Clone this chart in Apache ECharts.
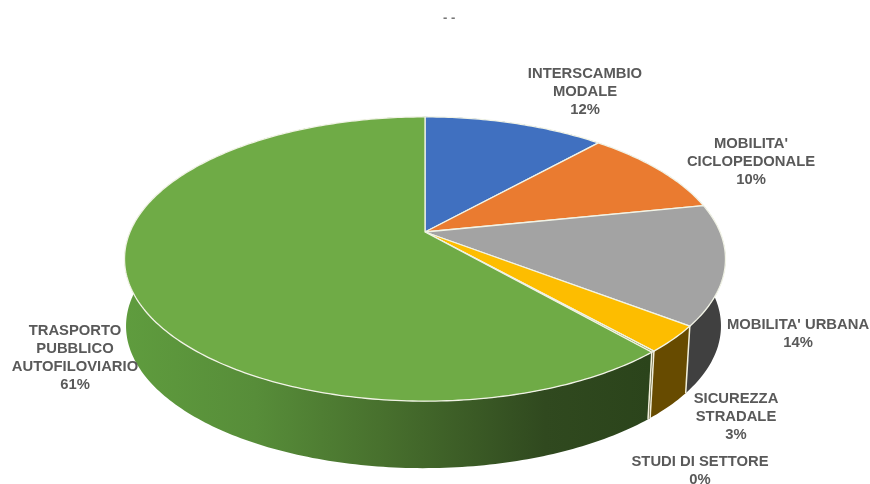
<!DOCTYPE html>
<html>
<head>
<meta charset="utf-8">
<style>html,body{margin:0;padding:0;background:#fff}#c{width:870px;height:484px}</style>
<script src="https://cdn.jsdelivr.net/npm/echarts@6/dist/echarts.min.js"></script>
</head>
<body>
<div id="c"></div>
<script>
// ---- data ----
const categories = ["INTERSCAMBIO\nMODALE", "MOBILITA'\nCICLOPEDONALE", "MOBILITA' URBANA", "SICUREZZA\nSTRADALE", "STUDI DI SETTORE", "TRASPORTO\nPUBBLICO\nAUTOFILOVIARIO"];
const shares = [11.7, 10.1, 13.6, 3.0, 0.15, 61.45];

// ---- styles ----
const faceColors = ['#4070c0', '#ea7b30', '#a3a3a3', '#fdbd00', '#8a9a3a', '#6fab46'];
const wallColors = ['#2a4a80', '#9c5220', '#404040', '#674b00', '#3a3a10',
  [[0, '#5f9c3e'], [0.25, '#578d39'], [0.5, '#476f2d'], [0.8, '#30491f'], [1, '#2b441b']]];
const labelAnchors = [[585, 92], [751, 162], [798, 334], [736, 417], [700, 471], [75, 358]];

// ---- pie geometry (perspective-projected disc) ----
const apex = [425, 232];
const halfWidth = 295;
const halfDepth = 137;
const tilt = 0.19;
const wallHeight = 67;
const baseScale = 0.99;
const baseShift = -1.5;

function project(pct, drop) {
  const t = pct / 100 * Math.PI * 2;
  const u = Math.sin(t), v = Math.cos(t), d = 1 + tilt * v;
  const s = drop ? baseScale : 1;
  const shift = drop ? baseShift : 0;
  return [apex[0] + shift + s * halfWidth * u / d, apex[1] - halfDepth * v / d + (drop || 0)];
}
function arc(from, to, drop) {
  const n = Math.max(2, Math.ceil((to - from) * 4));
  const pts = [];
  for (let i = 0; i <= n; i++) pts.push(project(from + (to - from) * i / n, drop));
  return pts;
}

let running = 0;
const rows = shares.map((v, i) => {
  const row = { name: categories[i].replace(/\n/g, ' '), value: [running, running + v, i] };
  running += v;
  return row;
});

function renderWall(params, api) {
  const a = api.value(0), b = api.value(1), i = api.value(2);
  const c = wallColors[i];
  const fill = Array.isArray(c)
    ? new echarts.graphic.LinearGradient(124, 0, 650, 0, c.map(s => ({ offset: s[0], color: s[1] })), true)
    : c;
  const pts = arc(a, b, 0).concat(arc(a, b, wallHeight).reverse());
  const p0 = project(a, 0), p1 = project(a, wallHeight);
  return {
    type: 'group',
    children: [
      { type: 'polygon', shape: { points: pts }, style: { fill: fill } },
      { type: 'line', shape: { x1: p0[0], y1: p0[1], x2: p1[0], y2: p1[1] },
        style: { stroke: '#f2f0dc', lineWidth: 1.5 } }
    ]
  };
}
function renderFace(params, api) {
  const a = api.value(0), b = api.value(1), i = api.value(2);
  return {
    type: 'polygon',
    shape: { points: [apex].concat(arc(a, b, 0)) },
    style: { fill: faceColors[i], stroke: '#f1f3e6', lineWidth: 1.3, lineJoin: 'round' }
  };
}
function renderLabel(params, api) {
  const i = api.value(2);
  const share = api.value(1) - api.value(0);
  return {
    type: 'text',
    style: {
      x: labelAnchors[i][0], y: labelAnchors[i][1],
      text: categories[i] + '\n' + Math.round(share) + '%',
      align: 'center', verticalAlign: 'middle',
      font: 'bold 14.8px "Liberation Sans", Arial, sans-serif',
      lineHeight: 18, fill: '#595959'
    }
  };
}

const chart = echarts.init(document.getElementById('c'), null, { renderer: 'canvas' });
chart.setOption({
  animation: false,
  backgroundColor: '#fff',
  title: { text: '- -', left: 438, top: 7, textStyle: { color: '#777', fontSize: 13, fontWeight: 'bold', fontFamily: 'Liberation Sans' } },
  series: [
    { type: 'custom', coordinateSystem: 'none', z: 1, data: rows, renderItem: renderWall, silent: true },
    { type: 'custom', coordinateSystem: 'none', z: 2, data: rows, renderItem: renderFace, silent: true },
    { type: 'custom', coordinateSystem: 'none', z: 3, data: rows, renderItem: renderLabel, silent: true }
  ]
});
</script>
</body>
</html>
